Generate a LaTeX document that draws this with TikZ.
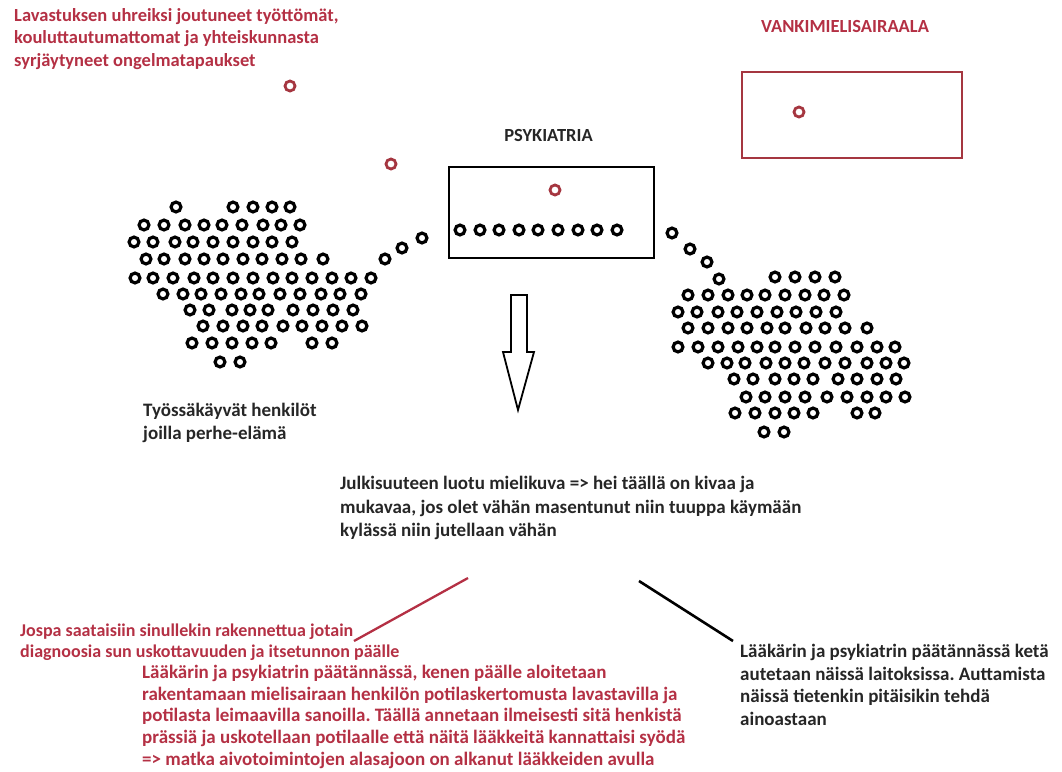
\documentclass[tikz,border=0pt]{standalone}
\usepackage{fontspec}
\setmainfont{Carlito}
\usepackage{tikz}
\usetikzlibrary{positioning}
\definecolor{labelred}{RGB}{180, 48, 68}
\definecolor{wardred}{RGB}{165, 54, 64}
\frenchspacing

\tikzset{
  person/.style={circle, draw=black, line width=3.2pt, minimum size=9.8pt, inner sep=0pt},
  outcast/.style={circle, draw=wardred, line width=2.8pt, minimum size=10pt, inner sep=0pt},
  note/.style={font=\fontsize{19}{22.6}\selectfont\bfseries, align=left, anchor=north west, inner sep=0pt, execute at begin node=\strut},
  heading/.style={font=\fontsize{18.5}{20}\selectfont\bfseries, inner sep=0pt}
}

\begin{document}
\begin{tikzpicture}[x=1pt, y=-1pt]
\useasboundingbox (0,0) rectangle (1062,771);

% Working people with a family
\foreach \y/\xs in {207/{176,233,253,272,290}, 225/{144,164,185,204,222,242,263,281,300},
  242/{134,153,175,193,213,233,253,272,292}, 259/{146,164,185,204,223,243,262,282,301,323,385},
  278/{135,153,173,194,213,233,253,273,292,312,332,351,371}, 294/{163,183,201,221,241,259,280,300,321,340,361},
  310/{190,209,232,250,268,293,313,333,353}, 326/{203,223,243,262,283,302,322,342,362},
  343/{192,212,232,252,271,312,332}, 362/{220,240}} {
  \foreach \x in \xs
    \node[person] (work-\x-\y) at (\x,\y) {};
}
\node[person] (walk-1) at (402,248) {};
\node[person] (walk-2) at (422,238) {};

% Psychiatry
\node[rectangle, draw, line width=2.4pt, minimum width=205pt, minimum height=91pt] (psych) at (551.5,212.5) {};
\node[heading, text=black!85, above=24pt of psych, xshift=-3pt] (psychtitle) {PSYKIATRIA};
\node[outcast] (psych-red) at (555,190) {};
\foreach \x in {460,480,499,519,538,558,578,597,617}
  \node[person] (ward-\x) at (\x,230) {};

% Leaving psychiatry
\node[person] (out-1) at (672,233) {};
\node[person] (out-2) at (690,249) {};
\node[person] (out-3) at (707,262) {};
\node[person] (out-4) at (719,279) {};
\foreach \y/\xs in {277/{775,795,815,835}, 295/{688,708,728,747,765,785,805,824,844},
  312/{678,697,718,737,757,777,796,816,836}, 328/{688,708,728,747,767,785,806,825,845,867},
  347/{678,698,718,738,757,775,795,815,836,857,877,895}, 363/{708,727,745,766,785,804,825,845,867,886,904},
  379/{734,753,775,794,813,838,857,877,896}, 397/{746,765,785,805,827,847,867,886,905},
  413/{735,755,775,794,813,857,875}, 432/{764,784}} {
  \foreach \x in \xs
    \node[person] (back-\x-\y) at (\x,\y) {};
}

% Prison hospital
\node[rectangle, draw=wardred, line width=2.6pt, minimum width=220pt, minimum height=86pt] (prison) at (852,115) {};
\node[heading, text=labelred, above=38pt of prison, xshift=-7pt] (prisontitle) {VANKIMIELISAIRAALA};
\node[outcast] (prison-red) at (799,112) {};

% Victims
\node[outcast] (victim-1) at (290,86) {};
\node[outcast] (victim-2) at (391,164) {};

% Big arrow
\draw[line width=1.8pt, fill=white, line join=miter] (511,295) -- (527,295) -- (527,352) -- (534,352)
  -- (518,410) -- (503,352) -- (511,352) -- cycle;

% Texts
\node[note, text=labelred, font=\fontsize{18.5}{22.5}\selectfont\bfseries] (victims) at (14,8) {Lavastuksen uhreiksi joutuneet työttömät,\\
  kouluttautumattomat ja yhteiskunnasta\\ syrjäytyneet ongelmatapaukset};
\node[note, text=black!85] (workers) at (143,403) {Työssäkäyvät henkilöt\\ joilla perhe-elämä};
\node[note, text=black!85, font=\fontsize{19}{23.5}\selectfont\bfseries] (image) at (340,476) {Julkisuuteen luotu mielikuva => hei täällä on kivaa ja\\
  mukavaa, jos olet vähän masentunut niin tuuppa käymään\\ kylässä niin jutellaan vähän};
\node[note, text=black!85] (helped) at (740,644) {Lääkärin ja psykiatrin päätännässä ketä\\
  autetaan näissä laitoksissa. Auttamista\\ näissä tietenkin pitäisikin tehdä\\ ainoastaan};
\node[note, text=labelred, font=\fontsize{18}{20.5}\selectfont\bfseries] (jospa) at (20,624) {Jospa saataisiin sinullekin rakennettua jotain\\
  diagnoosia sun uskottavuuden ja itsetunnon päälle};
\node[note, text=labelred, font=\fontsize{19}{21.7}\selectfont\bfseries] (framed) at (142,665) {Lääkärin ja psykiatrin päätännässä, kenen päälle aloitetaan\\
  rakentamaan mielisairaan henkilön potilaskertomusta lavastavilla ja\\
  potilasta leimaavilla sanoilla. Täällä annetaan ilmeisesti sitä henkistä\\
  prässiä ja uskotellaan potilaalle että näitä lääkkeitä kannattaisi syödä\\
  => matka aivotoimintojen alasajoon on alkanut lääkkeiden avulla};

% Pointer lines
\coordinate (redtop) at (468,578);
\coordinate (redend) at (354,641);
\coordinate (blacktop) at (639,581);
\coordinate (blackend) at (733,641);
\draw[labelred, line width=2.3pt] (redtop) -- (redend);
\draw[black, line width=2.6pt] (blacktop) -- (blackend);
\end{tikzpicture}
\end{document}
